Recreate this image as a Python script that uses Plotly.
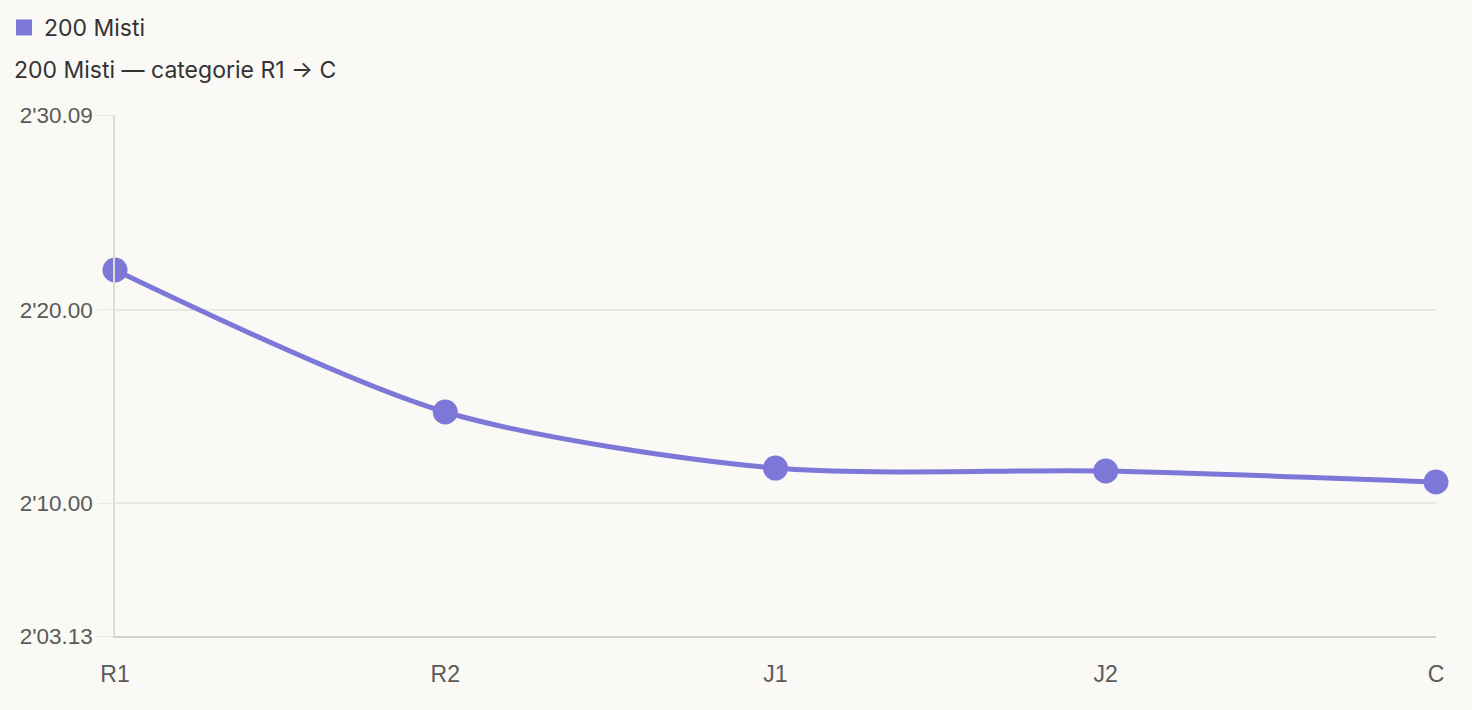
import plotly.graph_objects as go

categories = ["R1", "R2", "J1", "J2", "C"]
times_sec = [142.07, 134.72, 131.82, 131.67, 131.10]
series_name = "200 Misti"
y_min, y_max = 123.13, 150.09
tick_vals = [123.13, 130.00, 140.00, 150.09]


def fmt(t):
    m = int(t // 60)
    s = t - m * 60
    return f"{m}'{s:05.2f}"


tick_text = [fmt(v) for v in tick_vals]

LINE = "#7d78d8"
BG = "#faf9f5"
GRID = "#e9e7e2"
FONT = "Inter, Roboto, sans-serif"
TICKFONT = "Liberation Sans, Arial, sans-serif"

fig = go.Figure()
fig.add_trace(go.Scatter(
    x=categories, y=times_sec, mode="lines+markers",
    line=dict(color=LINE, width=5, shape="spline", smoothing=0.8),
    marker=dict(color=LINE, size=25),
    cliponaxis=False, showlegend=False, name=series_name,
    text=[fmt(v) for v in times_sec], hovertemplate="%{x}: %{text}<extra></extra>",
))
fig.add_trace(go.Scatter(
    x=[None], y=[None], mode="markers", name=series_name,
    marker=dict(color=LINE, size=16, symbol="square"), showlegend=True,
))

fig.update_layout(
    width=1472, height=710,
    paper_bgcolor=BG, plot_bgcolor=BG,
    margin=dict(l=115, r=36, t=115, b=74),
    font=dict(family=FONT, color="#555555", size=18),
    title=dict(text="200 Misti — categorie R1 → C", xref="container", yref="container",
               x=14 / 1472, xanchor="left", y=1 - 70 / 710, yanchor="middle",
               font=dict(family=FONT, size=23, color="#333333")),
    legend=dict(orientation="h", xref="container", yref="container", x=4 / 1472, y=1 - 6 / 710,
                xanchor="left", yanchor="top", bgcolor="rgba(0,0,0,0)",
                font=dict(family=FONT, size=23, color="#333333"),
                itemwidth=30),
    xaxis=dict(type="category", range=[0, 4], showgrid=False, showline=True,
               linecolor="#d3d1cc", linewidth=2, ticks="", ticklabelstandoff=16,
               tickfont=dict(family=TICKFONT, size=23, color="#5a5a5a"), zeroline=False),
    yaxis=dict(range=[y_min, y_max], tickvals=tick_vals, ticktext=tick_text,
               showgrid=True, gridcolor=GRID, gridwidth=1.5, showline=True,
               linecolor="#dedcd7", linewidth=1.5, ticks="outside", ticklen=15,
               tickcolor=GRID, ticklabelstandoff=1,
               tickfont=dict(family=TICKFONT, size=22.5, color="#5a5a5a"), zeroline=False),
)

fig.write_html("out.html", config={"displayModeBar": False},
               post_script="document.body.style.margin='0';document.body.style.background='#faf9f5';")
